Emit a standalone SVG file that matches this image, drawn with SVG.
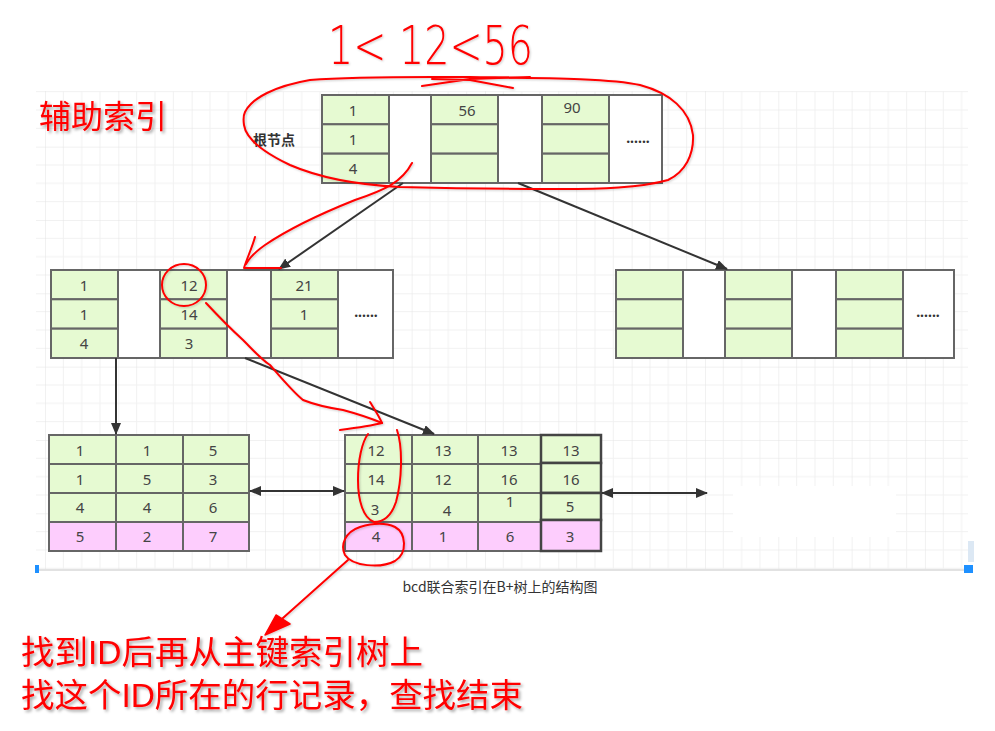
<svg xmlns="http://www.w3.org/2000/svg" width="995" height="731" viewBox="0 0 995 731">
<style>
.g{fill:#e6fad2;stroke:#666;stroke-width:2}
.p{fill:#fdcdfd;stroke:#666;stroke-width:2}
.w{fill:#fff;stroke:#666;stroke-width:2}
.t{font-family:"Noto Sans","Open Sans",sans-serif;font-size:15px;fill:#444;text-anchor:middle;dominant-baseline:central}
.dots{font-family:"Noto Sans",sans-serif;font-size:14px;font-weight:bold;fill:#333;text-anchor:middle}
.c{stroke:#333;stroke-width:2;fill:none}
.r{stroke:#f00;stroke-width:2;fill:none;stroke-linecap:round;stroke-linejoin:round}
.rt{font-family:"Liberation Sans","Noto Sans CJK SC",sans-serif;fill:#f00}
</style>
<defs>
<pattern id="grid" x="45" y="0" width="73.33" height="73.33" patternUnits="userSpaceOnUse">
<path d="M18.33,0V73.33M36.67,0V73.33M55,0V73.33M0,18.33H73.33M0,36.67H73.33M0,55H73.33" stroke="#f1f1f1" stroke-width="1"/>
<path d="M0,0V73.33M0,0H73.33" stroke="#e4e4e4" stroke-width="1"/>
</pattern>
<marker id="ah" viewBox="0 0 12 10" refX="11" refY="5" markerWidth="12" markerHeight="10" markerUnits="userSpaceOnUse" orient="auto-start-reverse">
<path d="M0,0L12,5L0,10z" fill="#333"/>
</marker>
<filter id="sh" x="-10%" y="-20%" width="130%" height="150%">
<feDropShadow dx="2" dy="2" stdDeviation="1.5" flood-color="#000" flood-opacity="0.35"/>
</filter>
<filter id="sh2" x="-10%" y="-10%" width="130%" height="130%">
<feDropShadow dx="1" dy="1" stdDeviation="1" flood-color="#000" flood-opacity="0.2"/>
</filter>
</defs>
<rect width="995" height="731" fill="#fff"/>
<rect x="36" y="91" width="932" height="478" fill="#fff"/>
<rect x="36" y="91" width="932" height="478" fill="url(#grid)"/>
<line x1="36" y1="570" x2="968" y2="570" stroke="#e2e2e2" stroke-width="2"/>
<rect x="733" y="486" width="163" height="51" fill="#fff"/>
<rect x="35" y="565" width="4" height="8" fill="#1e90ff"/>
<rect x="964" y="565" width="9" height="8" fill="#1e90ff"/>
<rect x="968" y="541" width="6" height="21" fill="#dce8f4"/>

<g id="root">
<rect class="w" x="322" y="95" width="340" height="88"/>
<rect class="g" x="322" y="95" width="67" height="29.3"/>
<rect class="g" x="322" y="124.3" width="67" height="29.3"/>
<rect class="g" x="322" y="153.7" width="67" height="29.3"/>
<rect class="g" x="431" y="95" width="67" height="29.3"/>
<rect class="g" x="431" y="124.3" width="67" height="29.3"/>
<rect class="g" x="431" y="153.7" width="67" height="29.3"/>
<rect class="g" x="542" y="95" width="67" height="29.3"/>
<rect class="g" x="542" y="124.3" width="67" height="29.3"/>
<rect class="g" x="542" y="153.7" width="67" height="29.3"/>
<text class="t" x="353" y="110">1</text>
<text class="t" x="353" y="139">1</text>
<text class="t" x="353" y="168">4</text>
<text class="t" x="467" y="110">56</text>
<text class="t" x="572" y="107">90</text>
<text class="dots" x="638" y="143">......</text>
<text x="274" y="145" font-family="Noto Sans CJK SC,sans-serif" font-size="14" font-weight="bold" fill="#333" text-anchor="middle">根节点</text>
</g>

<g id="mid-left">
<rect class="w" x="51" y="270" width="342" height="88"/>
<rect class="g" x="51" y="270" width="67" height="29.3"/>
<rect class="g" x="51" y="299.3" width="67" height="29.3"/>
<rect class="g" x="51" y="328.7" width="67" height="29.3"/>
<rect class="g" x="160" y="270" width="67" height="29.3"/>
<rect class="g" x="160" y="299.3" width="67" height="29.3"/>
<rect class="g" x="160" y="328.7" width="67" height="29.3"/>
<rect class="g" x="271" y="270" width="67" height="29.3"/>
<rect class="g" x="271" y="299.3" width="67" height="29.3"/>
<rect class="g" x="271" y="328.7" width="67" height="29.3"/>
<text class="t" x="84" y="285">1</text>
<text class="t" x="84" y="314">1</text>
<text class="t" x="84" y="343">4</text>
<text class="t" x="189" y="285">12</text>
<text class="t" x="189" y="314">14</text>
<text class="t" x="189" y="343">3</text>
<text class="t" x="304" y="285">21</text>
<text class="t" x="304" y="314">1</text>
<text class="dots" x="366" y="317">......</text>
</g>

<g id="mid-right">
<rect class="w" x="616" y="270" width="338" height="88"/>
<rect class="g" x="616" y="270" width="67" height="29.3"/>
<rect class="g" x="616" y="299.3" width="67" height="29.3"/>
<rect class="g" x="616" y="328.7" width="67" height="29.3"/>
<rect class="g" x="725" y="270" width="67" height="29.3"/>
<rect class="g" x="725" y="299.3" width="67" height="29.3"/>
<rect class="g" x="725" y="328.7" width="67" height="29.3"/>
<rect class="g" x="836" y="270" width="67" height="29.3"/>
<rect class="g" x="836" y="299.3" width="67" height="29.3"/>
<rect class="g" x="836" y="328.7" width="67" height="29.3"/>
<text class="dots" x="928" y="317">......</text>
</g>

<g id="leaf-left">
<rect class="g" x="49" y="435" width="67" height="29"/>
<rect class="g" x="116" y="435" width="67" height="29"/>
<rect class="g" x="183" y="435" width="66" height="29"/>
<rect class="g" x="49" y="464" width="67" height="29"/>
<rect class="g" x="116" y="464" width="67" height="29"/>
<rect class="g" x="183" y="464" width="66" height="29"/>
<rect class="g" x="49" y="493" width="67" height="29"/>
<rect class="g" x="116" y="493" width="67" height="29"/>
<rect class="g" x="183" y="493" width="66" height="29"/>
<rect class="p" x="49" y="522" width="67" height="29"/>
<rect class="p" x="116" y="522" width="67" height="29"/>
<rect class="p" x="183" y="522" width="66" height="29"/>
<text class="t" x="80" y="450">1</text><text class="t" x="147" y="450">1</text><text class="t" x="213" y="450">5</text>
<text class="t" x="80" y="479">1</text><text class="t" x="147" y="479">5</text><text class="t" x="213" y="479">3</text>
<text class="t" x="80" y="507">4</text><text class="t" x="147" y="507">4</text><text class="t" x="213" y="507">6</text>
<text class="t" x="80" y="536">5</text><text class="t" x="147" y="536">2</text><text class="t" x="213" y="536">7</text>
</g>

<g id="leaf-mid">
<rect class="g" x="345" y="435" width="67" height="29"/>
<rect class="g" x="412" y="435" width="66" height="29"/>
<rect class="g" x="478" y="435" width="63" height="29"/>
<rect class="g" x="345" y="464" width="67" height="29"/>
<rect class="g" x="412" y="464" width="66" height="29"/>
<rect class="g" x="478" y="464" width="63" height="29"/>
<rect class="g" x="345" y="493" width="67" height="29"/>
<rect class="g" x="412" y="493" width="66" height="29"/>
<rect class="g" x="478" y="493" width="63" height="29"/>
<rect class="p" x="345" y="522" width="67" height="29"/>
<rect class="p" x="412" y="522" width="66" height="29"/>
<rect class="p" x="478" y="522" width="63" height="29"/>
<rect class="g" x="541" y="435" width="60" height="28" style="stroke:#444;stroke-width:2.5"/>
<rect class="g" x="541" y="463" width="60" height="30" style="stroke:#444;stroke-width:2.5"/>
<rect class="g" x="541" y="493" width="60" height="27" style="stroke:#444;stroke-width:2.5"/>
<rect class="p" x="541" y="520" width="60" height="31" style="stroke:#444;stroke-width:2.5"/>
<text class="t" x="376" y="450">12</text><text class="t" x="443" y="450">13</text><text class="t" x="509" y="450">13</text><text class="t" x="571" y="450">13</text>
<text class="t" x="376" y="479">14</text><text class="t" x="443" y="479">12</text><text class="t" x="509" y="479">16</text><text class="t" x="571" y="479">16</text>
<text class="t" x="375" y="509">3</text><text class="t" x="447" y="510">4</text><text class="t" x="510" y="501">1</text><text class="t" x="570" y="506">5</text>
<text class="t" x="376" y="536">4</text><text class="t" x="443" y="536">1</text><text class="t" x="510" y="536">6</text><text class="t" x="570" y="536">3</text>
</g>

<g id="connectors">
<line class="c" x1="403" y1="183" x2="279" y2="269" marker-end="url(#ah)"/>
<line class="c" x1="518" y1="183" x2="727" y2="269" marker-end="url(#ah)"/>
<line class="c" x1="116" y1="358" x2="116" y2="434" marker-end="url(#ah)"/>
<line class="c" x1="245" y1="358" x2="434" y2="434" marker-end="url(#ah)"/>
<line class="c" x1="250" y1="491" x2="344" y2="491" marker-start="url(#ah)" marker-end="url(#ah)"/>
<line class="c" x1="602" y1="493" x2="707" y2="493" marker-start="url(#ah)" marker-end="url(#ah)"/>
</g>

<text x="500" y="592" font-family="Noto Sans CJK SC,Noto Sans,sans-serif" font-size="14" fill="#333" text-anchor="middle">bcd联合索引在B+树上的结构图</text>

<g id="annotations" filter="url(#sh2)">
<text x="328" y="64" font-family="DejaVu Sans,sans-serif" font-size="54" font-weight="200" fill="#f00" textLength="205" lengthAdjust="spacingAndGlyphs">1&lt; 12&lt;56</text>
<path class="r" d="M245,112 C252,98 275,86 310,80 C360,76 430,77 470,77 C540,78 610,78 640,85 C670,93 690,110 693,135 C694,155 685,172 668,180 C640,188 600,189 560,189 C500,189 440,188 400,187 C360,185 320,178 290,165 C265,153 246,140 244,125 C243,118 244,114 245,112"/>
<path class="r" d="M422,86 L470,79 L530,77 M432,79 L470,80 L513,88"/>
<path class="r" d="M412,163 C402,182 385,190 355,200 C320,214 290,228 265,245 C255,252 250,257 246,264"/>
<path class="r" d="M255,237 C252,248 247,258 244,268 L281,268"/>
<ellipse class="r" cx="184" cy="285" rx="22" ry="21"/>
<path class="r" d="M206,303 C220,318 232,330 243,340 C255,352 262,360 270,365 C283,380 293,392 303,400 C318,406 330,408 343,410 C358,414 370,418 382,423"/>
<path class="r" d="M370,402 C375,410 379,416 382,423 C370,426 355,428 340,430"/>
<path class="r" d="M397,430 C403,448 402,480 396,502 C392,514 385,522 374,522 C363,518 358,500 358,480 C358,460 362,442 368,434"/>
<path class="r" d="M360,527 C345,532 340,545 345,555 C352,566 380,569 395,561 C408,553 406,533 395,527 C384,522 370,524 360,527"/>
<path class="r" d="M348,560 L274,626"/>
<path d="M265,635 L276,615 L290,624 z" fill="#f00" stroke="#f00" stroke-width="1.5" stroke-linejoin="round"/>
</g>

<g filter="url(#sh)">
<text class="rt" x="39" y="128" font-size="32">辅助索引</text>
<text class="rt" x="21" y="664" font-size="33" textLength="402" lengthAdjust="spacingAndGlyphs">找到ID后再从主键索引树上</text>
<text class="rt" x="21" y="707" font-size="33" textLength="502" lengthAdjust="spacingAndGlyphs">找这个ID所在的行记录，查找结束</text>
</g>
</svg>
